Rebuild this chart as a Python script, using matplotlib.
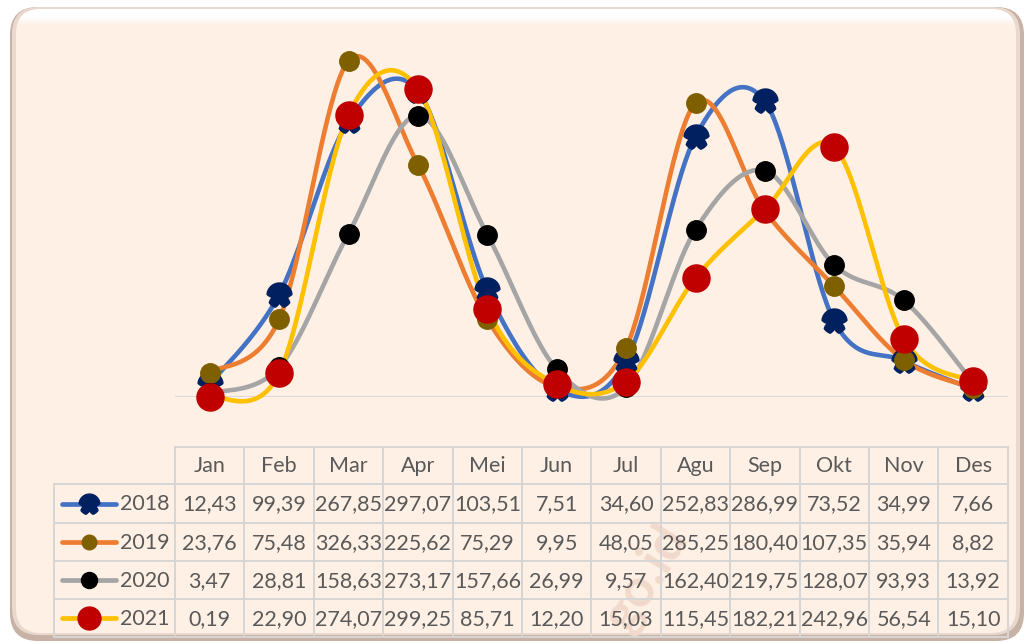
import numpy as np
import matplotlib
matplotlib.use("Agg")
import matplotlib.pyplot as plt
from matplotlib.patches import FancyBboxPatch
from matplotlib.path import Path
from matplotlib.colors import LinearSegmentedColormap

plt.rcParams['font.family'] = ['Lato', 'DejaVu Sans']

# ---- data -------------------------------------------------------------
months = ["Jan", "Feb", "Mar", "Apr", "Mei", "Jun",
          "Jul", "Agu", "Sep", "Okt", "Nov", "Des"]
years = ["2018", "2019", "2020", "2021"]
v2018 = [12.43, 99.39, 267.85, 297.07, 103.51, 7.51, 34.60, 252.83, 286.99, 73.52, 34.99, 7.66]
v2019 = [23.76, 75.48, 326.33, 225.62, 75.29, 9.95, 48.05, 285.25, 180.40, 107.35, 35.94, 8.82]
v2020 = [3.47, 28.81, 158.63, 273.17, 157.66, 26.99, 9.57, 162.40, 219.75, 128.07, 93.93, 13.92]
v2021 = [0.19, 22.90, 274.07, 299.25, 85.71, 12.20, 15.03, 115.45, 182.21, 242.96, 56.54, 15.10]
series = [v2018, v2019, v2020, v2021]

line_colors = ["#4472C4", "#ED7D31", "#A5A5A5", "#FFC000"]
marker_colors = ["#002060", "#7F6000", "#000000", "#C00000"]


def notched_circle():
    """Round marker with three small wedge cuts in its lower half."""
    angs = np.linspace(0, 2 * np.pi, 241)
    r = np.ones_like(angs)
    w = np.deg2rad(20)
    for c in np.deg2rad([195, 270, 345]):
        d = np.abs(np.angle(np.exp(1j * (angs - c))))
        m = d < w
        r[m] = np.minimum(r[m], 1 - 0.42 * (1 - d[m] / w))
    verts = np.column_stack([r * np.cos(angs), r * np.sin(angs)])
    return Path(verts, closed=True)


markers = [notched_circle(), "o", "o", "o"]
chart_msize = [18, 14, 14, 19.5]
legend_msize = [15, 10.5, 11.5, 16.5]


def smooth(values, n=40):
    """Cubic Bezier smoothing through every point (Catmull-Rom tangents)."""
    y = np.asarray(values, float)
    x = np.arange(len(y), dtype=float)
    P = np.column_stack([x, y])
    Pe = np.vstack([P[0], P, P[-1]])
    t = np.linspace(0, 1, n)[:, None]
    parts = []
    for i in range(len(y) - 1):
        p0, p1, p2, p3 = Pe[i], Pe[i + 1], Pe[i + 2], Pe[i + 3]
        c1 = p1 + (p2 - p0) / 6
        c2 = p2 - (p3 - p1) / 6
        seg = ((1 - t) ** 3 * p1 + 3 * (1 - t) ** 2 * t * c1
               + 3 * (1 - t) * t ** 2 * c2 + t ** 3 * p2)
        parts.append(seg if i == 0 else seg[1:])
    s = np.vstack(parts)
    return s[:, 0], s[:, 1]


W, H = 1027, 642
fig = plt.figure(figsize=(W / 100, H / 100), dpi=100)
fig.patch.set_facecolor("white")

# pixel-space canvas for the frame and the data table
bg = fig.add_axes([0, 0, 1, 1])
bg.set_xlim(0, W)
bg.set_ylim(H, 0)
bg.axis("off")

peach = "#FEF0E4"
bg.add_patch(FancyBboxPatch((10, 7), 1014, 634, boxstyle="round,pad=0,rounding_size=28",
                            facecolor="#C8B2A5", edgecolor="none", zorder=0))
bg.add_patch(FancyBboxPatch((12, 7), 1008, 628, boxstyle="round,pad=0,rounding_size=27",
                            facecolor="#E9D8CE", edgecolor="none", zorder=0.1))
inner = FancyBboxPatch((16, 9), 1000, 624, boxstyle="round,pad=0,rounding_size=25",
                       facecolor=peach, edgecolor="none", zorder=0.2)
bg.add_patch(inner)
# soft white bevel along the top edge
grad = np.linspace(0, 1, 64)[:, None] * np.ones((1, 2))
bevel = LinearSegmentedColormap.from_list("bevel", ["#FFFFFF", "#FFFFFF", peach])
im = bg.imshow(grad, cmap=bevel, extent=(10, 1020, 26, 8), aspect="auto",
               zorder=0.3, interpolation="bilinear")
im.set_clip_path(inner)

# table geometry (pixels)
x0, cw = 175.0, 69.4
leg_x0 = 54
row_edges = [447, 484, 523, 561, 599, 637]
grid_c = "#D6D6D6"
glw = 1.4
col_edges = [x0 + k * cw for k in range(len(months) + 1)]
x_end = col_edges[-1]
bg.plot([x0, x_end], [row_edges[0]] * 2, color=grid_c, lw=glw, zorder=1)
for yy in row_edges[1:]:
    bg.plot([leg_x0, x_end], [yy, yy], color=grid_c, lw=glw, zorder=1)
bg.plot([leg_x0, leg_x0], [row_edges[1], row_edges[-1]], color=grid_c, lw=glw, zorder=1)
for xx in col_edges:
    bg.plot([xx, xx], [row_edges[0], row_edges[-1]], color=grid_c, lw=glw, zorder=1)

# faint watermark
bg.text(646, 578, "go.id", rotation=58, fontsize=38, fontweight="bold",
        color="#F1DACB", ha="center", va="center", zorder=0.5)

txt_c = "#595959"
fs = 15.5
for j, m in enumerate(months):
    cx = x0 + (j + 0.5) * cw
    bg.text(cx, (row_edges[0] + row_edges[1]) / 2 + 1, m, ha="center", va="center",
            fontsize=fs, color=txt_c, zorder=2)
for i, (yr, vals) in enumerate(zip(years, series)):
    cy = (row_edges[i + 1] + row_edges[i + 2]) / 2 + 1
    for j, v in enumerate(vals):
        cx = x0 + (j + 0.5) * cw
        bg.text(cx, cy, f"{v:.2f}".replace(".", ","), ha="center", va="center",
                fontsize=fs, color=txt_c, zorder=2)
    # legend key
    bg.plot([62, 116], [cy - 1, cy - 1], color=line_colors[i], lw=3.4,
            solid_capstyle="round", zorder=2)
    bg.plot([89], [cy - 1], marker=markers[i], ms=legend_msize[i], color=marker_colors[i],
            mec=marker_colors[i], ls="none", zorder=3)
    bg.text(120, cy, yr, ha="left", va="center", fontsize=fs, color=txt_c, zorder=2)

# ---- chart ------------------------------------------------------------
y_base, px_per_unit, y_max = 397, 1.03, 350
ax = fig.add_axes([x0 / W, (H - y_base) / H, (x_end - x0) / W, y_max * px_per_unit / H])
ax.set_xlim(-0.5, len(months) - 0.5)
ax.set_ylim(0, y_max)
ax.axis("off")
ax.patch.set_alpha(0)
ax.axhline(0, color="#D9D9D9", lw=1.5, zorder=1)

xi = np.arange(len(months))
for i, vals in enumerate(series):
    sx, sy = smooth(vals)
    ax.plot(sx, sy, color=line_colors[i], lw=3.3, solid_capstyle="round",
            clip_on=False, zorder=2 + i)
for i, vals in enumerate(series):
    ax.plot(xi, vals, ls="none", marker=markers[i], ms=chart_msize[i],
            color=marker_colors[i], mec=marker_colors[i], clip_on=False, zorder=10 + i)

fig.savefig("out.png", dpi=100, facecolor="white")
